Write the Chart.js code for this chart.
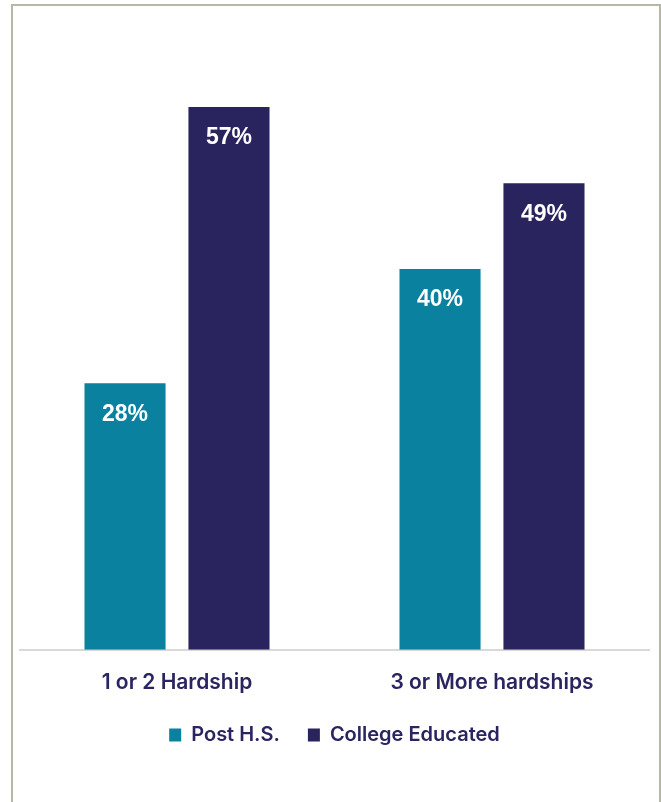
<!DOCTYPE html>
<html>
<head>
<meta charset="utf-8">
<script src="https://cdn.jsdelivr.net/npm/chart.js@4"></script>
<style>
  html, body { margin: 0; padding: 0; background: #fff; }
  #wrap { position: relative; width: 661px; height: 802px; }
  #frame {
    position: absolute; left: 11px; top: 4px; width: 646px; height: 800px;
    border-top: 2px solid #b8b6a7; border-left: 2px solid #b8b6a7; border-right: 2px solid #b8b6a7;
    pointer-events: none;
  }
</style>
</head>
<body>
<div id="wrap">
  <canvas id="hardshipChart" width="661" height="802"></canvas>
  <div id="frame"></div>
</div>
<script>
const categories = ["1 or 2 Hardship", "3 or More hardships"];
const postHS = [28, 40];
const collegeEducated = [57, 49];

const textNavy = "#2a2560";

// white % labels near the top of each bar
const valueLabels = {
  id: "valueLabels",
  afterDatasetsDraw(chart) {
    const ctx = chart.ctx;
    ctx.save();
    ctx.fillStyle = "#ffffff";
    ctx.font = "bold 23px 'Liberation Sans', Arial, sans-serif";
    ctx.textAlign = "center";
    ctx.textBaseline = "middle";
    chart.data.datasets.forEach((ds, i) => {
      chart.getDatasetMeta(i).data.forEach((bar, j) => {
        ctx.fillText(ds.data[j] + "%", bar.x, bar.y + 31);
      });
    });
    ctx.restore();
  }
};

new Chart(document.getElementById("hardshipChart"), {
  type: "bar",
  data: {
    labels: categories,
    datasets: [
      {
        label: "Post H.S.",
        data: postHS,
        backgroundColor: "#0a819f",
        categoryPercentage: 0.66,
        barPercentage: 0.78
      },
      {
        label: "College Educated",
        data: collegeEducated,
        backgroundColor: "#29245e",
        categoryPercentage: 0.66,
        barPercentage: 0.78
      }
    ]
  },
  options: {
    responsive: false,
    animation: false,
    layout: { padding: { top: 78.5, left: 19.5, right: 11.5, bottom: 47 } },
    plugins: {
      tooltip: { enabled: false },
      legend: {
        position: "bottom",
        labels: {
          boxWidth: 12,
          boxHeight: 13,
          padding: 28,
          color: textNavy,
          font: { family: "Inter, sans-serif", size: 20, weight: "600" }
        }
      }
    },
    scales: {
      x: {
        grid: { display: false, drawTicks: false },
        border: { color: "#d9d9d9", width: 2 },
        ticks: {
          padding: 20,
          color: textNavy,
          font: { family: "Inter, sans-serif", size: 21, weight: "600" }
        },
        afterFit(scale) { scale.height -= 18; }
      },
      y: {
        display: false,
        min: 0,
        max: 60
      }
    }
  },
  plugins: [valueLabels]
});
</script>
</body>
</html>
